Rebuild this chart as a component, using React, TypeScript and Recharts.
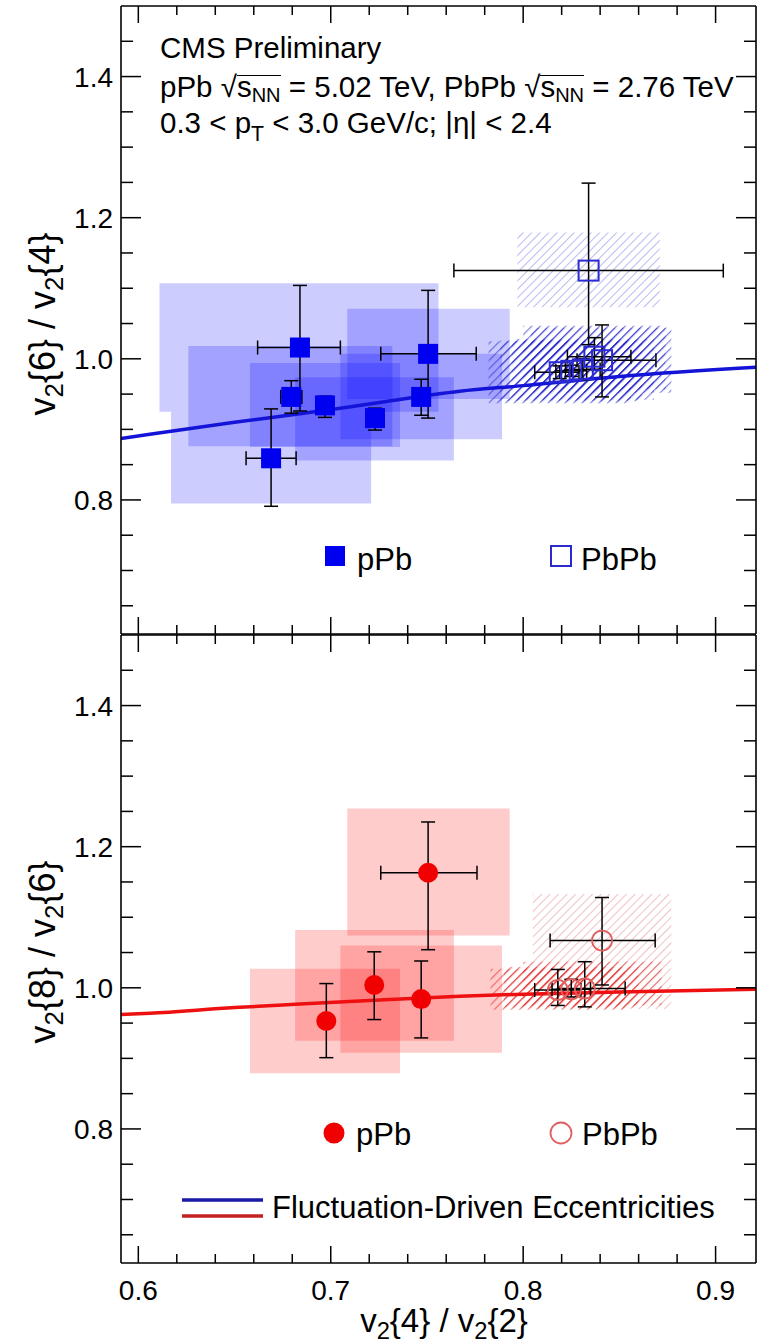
import React from "react"
import { ComposedChart, Scatter, Line, XAxis, YAxis, ErrorBar, ReferenceArea } from "recharts"

// axis ticks (major + minor) and labels
const xTicks = [0.6, 0.62, 0.64, 0.66, 0.68, 0.7, 0.72, 0.74, 0.76, 0.78, 0.8, 0.82, 0.84, 0.86, 0.88, 0.9]
const xMajor = [0.6, 0.7, 0.8, 0.9]
const xLabels = ["0.6", "0.7", "0.8", "0.9"]
const yTicks = [0.65, 0.7, 0.75, 0.8, 0.85, 0.9, 0.95, 1.0, 1.05, 1.1, 1.15, 1.2, 1.25, 1.3, 1.35, 1.4, 1.45]
const yMajor = [0.8, 1.0, 1.2, 1.4]
const yLabels = ["0.8", "1.0", "1.2", "1.4"]

// top panel: v2{6}/v2{4}, pPb
const pPbTopX = [0.669, 0.684, 0.6795, 0.697, 0.723, 0.7506, 0.747]
const pPbTopY = [0.859, 1.016, 0.946, 0.934, 0.916, 1.007, 0.946]
const pPbTopXLo = [0.656, 0.662, 0.674, 0.697, 0.723, 0.726, 0.747]
const pPbTopXHi = [0.682, 0.705, 0.685, 0.697, 0.723, 0.7756, 0.747]
const pPbTopYLo = [0.791, 0.926, 0.923, 0.917, 0.899, 0.916, 0.92]
const pPbTopYHi = [0.929, 1.104, 0.969, 0.947, 0.93, 1.097, 0.971]
const pPbTopSysX1 = [0.617, 0.611, 0.626, 0.658, 0.6815, 0.7086, 0.705]
const pPbTopSysX2 = [0.721, 0.756, 0.732, 0.736, 0.764, 0.793, 0.789]
const pPbTopSysY1 = [0.795, 0.925, 0.876, 0.875, 0.856, 0.943, 0.886]
const pPbTopSysY2 = [0.925, 1.107, 1.018, 0.994, 0.974, 1.071, 1.007]

// top panel: PbPb (last one is the isolated point)
const pbpbTopX = [0.819, 0.825, 0.831, 0.837, 0.841, 0.834]
const pbpbTopY = [0.981, 0.983, 0.985, 1.003, 0.998, 1.125]
const pbpbTopXLo = [0.806, 0.817, 0.822, 0.823, 0.828, 0.764]
const pbpbTopXHi = [0.829, 0.833, 0.84, 0.856, 0.869, 0.904]
const pbpbTopYLo = [0.972, 0.975, 0.97, 0.985, 0.946, 1.02]
const pbpbTopYHi = [0.99, 0.991, 1.0, 1.03, 1.048, 1.249]
const pbpbTopSysX1 = [0.782, 0.788, 0.794, 0.8, 0.804, 0.797]
const pbpbTopSysX2 = [0.856, 0.862, 0.868, 0.874, 0.877, 0.871]
const pbpbTopSysY1 = [0.937, 0.94, 0.942, 0.957, 0.952, 1.073]
const pbpbTopSysY2 = [1.025, 1.026, 1.028, 1.047, 1.044, 1.179]

// bottom panel: v2{8}/v2{6}, pPb
const pPbBotX = [0.6977, 0.7226, 0.747, 0.7506]
const pPbBotY = [0.953, 1.004, 0.984, 1.163]
const pPbBotXLo = [0.6977, 0.7226, 0.745, 0.726]
const pPbBotXHi = [0.6977, 0.7226, 0.749, 0.776]
const pPbBotYLo = [0.901, 0.955, 0.929, 1.054]
const pPbBotYHi = [1.006, 1.051, 1.038, 1.235]
const pPbBotSysX1 = [0.658, 0.6815, 0.705, 0.7086]
const pPbBotSysX2 = [0.736, 0.764, 0.789, 0.793]
const pPbBotSysY1 = [0.879, 0.925, 0.908, 1.074]
const pPbBotSysY2 = [1.027, 1.082, 1.06, 1.254]

// bottom panel: PbPb (last one is the isolated point)
const pbpbBotX = [0.818, 0.825, 0.832, 0.841]
const pbpbBotY = [0.997, 0.998, 0.999, 1.067]
const pbpbBotXLo = [0.806, 0.815, 0.818, 0.814]
const pbpbBotXHi = [0.83, 0.835, 0.853, 0.8686]
const pbpbBotYLo = [0.975, 0.987, 0.973, 1.004]
const pbpbBotYHi = [1.026, 1.012, 1.037, 1.128]
const pbpbBotSysX1 = [0.783, 0.79, 0.8, 0.805]
const pbpbBotSysX2 = [0.853, 0.86, 0.872, 0.877]
const pbpbBotSysY1 = [0.969, 0.972, 0.975, 0.97]
const pbpbBotSysY2 = [1.027, 1.03, 1.037, 1.133]

// fluctuation-driven eccentricity curves
const curveX = [0.591, 0.606, 0.65, 0.684, 0.72, 0.767, 0.8, 0.85, 0.921]
const blueCurveY = [0.887, 0.893, 0.91, 0.922, 0.936, 0.954, 0.962, 0.975, 0.988]
const redCurveY = [0.962, 0.964, 0.972, 0.977, 0.982, 0.988, 0.991, 0.994, 0.998]

const FONT = "'Liberation Sans', Arial, Helvetica, sans-serif"
const X_DOMAIN: [number, number] = [0.591, 0.921]
const Y_DOMAIN: [number, number] = [0.61, 1.5]

const points = (xs: number[], ys: number[], xlo: number[], xhi: number[], ylo: number[], yhi: number[]) =>
  xs.map((x, i) => ({
    x,
    y: ys[i],
    ex: [x - xlo[i], xhi[i] - x],
    ey: [ys[i] - ylo[i], yhi[i] - ys[i]],
  }))

const curve = (ys: number[]) => curveX.map((x, i) => ({ x, y: ys[i] }))

const near = (v: number, list: number[]) => list.findIndex((m) => Math.abs(m - v) < 1e-6)

// ROOT-like ticks pointing into the frame
const makeTick = (side: "bottom" | "top" | "left" | "right", withLabels: boolean) => (props: any) => {
  const { x, y, payload } = props
  const isX = side === "bottom" || side === "top"
  const idx = near(payload.value, isX ? xMajor : yMajor)
  const major = idx >= 0
  const len = isX ? (major ? 17 : 9) : major ? 20 : 12
  let line
  if (side === "bottom") line = <line x1={x} x2={x} y1={y} y2={y - len} />
  else if (side === "top") line = <line x1={x} x2={x} y1={y} y2={y + len} />
  else if (side === "left") line = <line x1={x} x2={x + len} y1={y} y2={y} />
  else line = <line x1={x} x2={x - len} y1={y} y2={y} />
  return (
    <g stroke="#000" strokeWidth={1.5}>
      {line}
      {withLabels && major && side === "bottom" && (
        <text x={x} y={y + 37} textAnchor="middle" fontSize={28} fontFamily={FONT} fill="#000" stroke="none">
          {xLabels[idx]}
        </text>
      )}
      {withLabels && major && side === "left" && (
        <text x={x - 8} y={y + 10} textAnchor="end" fontSize={28} fontFamily={FONT} fill="#000" stroke="none">
          {yLabels[idx]}
        </text>
      )}
    </g>
  )
}

const axisLine = { stroke: "#000", strokeWidth: 1.6 }

const filledSquare = (p: any) => <rect x={p.cx - 10} y={p.cy - 10} width={20} height={20} fill="#0000f0" />
const openSquare = (p: any) => (
  <rect x={p.cx - 10} y={p.cy - 10} width={20} height={20} fill="none" stroke="#2a2ad0" strokeWidth={2} />
)
const filledCircle = (p: any) => <circle cx={p.cx} cy={p.cy} r={10} fill="#f00000" />
const openCircle = (p: any) => <circle cx={p.cx} cy={p.cy} r={10} fill="none" stroke="#e06060" strokeWidth={1.8} />

function Panel({ top, height, bottomH, labels, children }: any) {
  return (
    <div style={{ position: "absolute", left: 0, top }}>
      <ComposedChart width={759} height={height} margin={{ top: 5, right: 2, bottom: 0, left: 0 }}>
        <defs>
          <pattern id="hatchBlue" patternUnits="userSpaceOnUse" width={6} height={6} patternTransform="rotate(45)">
            <line x1={0} y1={0} x2={0} y2={6} stroke="#3a3ad8" strokeWidth={1.3} />
          </pattern>
          <pattern id="hatchBlueBold" patternUnits="userSpaceOnUse" width={6} height={6} patternTransform="rotate(45)">
            <line x1={0} y1={0} x2={0} y2={6} stroke="#1c1cc8" strokeWidth={2.4} />
          </pattern>
          <pattern id="hatchRed" patternUnits="userSpaceOnUse" width={6} height={6} patternTransform="rotate(45)">
            <line x1={0} y1={0} x2={0} y2={6} stroke="#d85050" strokeWidth={1.3} />
          </pattern>
          <pattern id="hatchRedBold" patternUnits="userSpaceOnUse" width={6} height={6} patternTransform="rotate(45)">
            <line x1={0} y1={0} x2={0} y2={6} stroke="#e01818" strokeWidth={2.4} />
          </pattern>
        </defs>
        <XAxis
          xAxisId={0}
          dataKey="x"
          type="number"
          domain={X_DOMAIN}
          allowDataOverflow
          ticks={xTicks}
          interval={0}
          height={bottomH}
          tickSize={0}
          tickMargin={0}
          tickLine={false}
          axisLine={axisLine}
          tick={makeTick("bottom", labels)}
        />
        <XAxis
          xAxisId="top"
          orientation="top"
          dataKey="x"
          type="number"
          domain={X_DOMAIN}
          allowDataOverflow
          ticks={xTicks}
          interval={0}
          height={1}
          tickSize={0}
          tickMargin={0}
          tickLine={false}
          axisLine={axisLine}
          tick={makeTick("top", false)}
        />
        <YAxis
          yAxisId={0}
          dataKey="y"
          type="number"
          domain={Y_DOMAIN}
          allowDataOverflow
          ticks={yTicks}
          interval={0}
          width={121}
          tickSize={0}
          tickMargin={0}
          tickLine={false}
          axisLine={axisLine}
          tick={makeTick("left", true)}
        />
        <YAxis
          yAxisId="right"
          orientation="right"
          dataKey="y"
          type="number"
          domain={Y_DOMAIN}
          allowDataOverflow
          ticks={yTicks}
          interval={0}
          width={1}
          tickSize={0}
          tickMargin={0}
          tickLine={false}
          axisLine={axisLine}
          tick={makeTick("right", false)}
        />
        {children}
      </ComposedChart>
    </div>
  )
}

const sysBoxes = (x1: number[], x2: number[], y1: number[], y2: number[], fill: string | string[], opacity: number, key: string) =>
  x1.map((_, i) => (
    <ReferenceArea
      key={key + i}
      x1={x1[i]}
      x2={x2[i]}
      y1={y1[i]}
      y2={y2[i]}
      fill={Array.isArray(fill) ? fill[i] : fill}
      fillOpacity={opacity}
      stroke="none"
      ifOverflow="hidden"
    />
  ))

const subStyle: React.CSSProperties = { fontSize: "0.72em", position: "relative", top: "0.3em" }

const Sqrt = () => (
  <span>
    √
    <span style={{ display: "inline-block", lineHeight: "21px", borderTop: "1.5px solid #000" }}>
      s<span style={{ ...subStyle, top: "0.25em", fontSize: "0.68em" }}>NN</span>
    </span>
  </span>
)

const V2 = ({ a, b }: { a: string; b: string }) => (
  <>
    v<span style={subStyle}>2</span>
    {`{${a}} / v`}
    <span style={subStyle}>2</span>
    {`{${b}}`}
  </>
)

const hatchTop = ["url(#hatchBlueBold)", "url(#hatchBlueBold)", "url(#hatchBlueBold)", "url(#hatchBlueBold)", "url(#hatchBlueBold)", "url(#hatchBlue)"]
const hatchBot = ["url(#hatchRedBold)", "url(#hatchRedBold)", "url(#hatchRedBold)", "url(#hatchRed)"]

export default function App() {
  const pPbTop = points(pPbTopX, pPbTopY, pPbTopXLo, pPbTopXHi, pPbTopYLo, pPbTopYHi)
  const pbpbTop = points(pbpbTopX, pbpbTopY, pbpbTopXLo, pbpbTopXHi, pbpbTopYLo, pbpbTopYHi)
  const pPbBot = points(pPbBotX, pPbBotY, pPbBotXLo, pPbBotXHi, pPbBotYLo, pPbBotYHi)
  const pbpbBot = points(pbpbBotX, pbpbBotY, pbpbBotXLo, pbpbBotXHi, pbpbBotYLo, pbpbBotYHi)

  const textStyle: React.CSSProperties = {
    position: "absolute",
    fontFamily: FONT,
    fontSize: 29.5,
    lineHeight: "29px",
    whiteSpace: "nowrap",
    color: "#000",
  }

  return (
    <div style={{ position: "absolute", left: 0, top: 0, width: 759, height: 1342, background: "#fff", fontFamily: FONT }}>
      {/* top panel */}
      <Panel top={0} height={635} bottomH={1} labels={false}>
        {sysBoxes(pPbTopSysX1, pPbTopSysX2, pPbTopSysY1, pPbTopSysY2, "#0000ff", 0.2, "pt")}
        {sysBoxes(pbpbTopSysX1, pbpbTopSysX2, pbpbTopSysY1, pbpbTopSysY2, hatchTop, 0.55, "bt")}
        <Line data={curve(blueCurveY)} dataKey="y" type="monotone" stroke="#1414d8" strokeWidth={3.5} dot={false} isAnimationActive={false} />
        <Scatter data={pPbTop} dataKey="y" shape={filledSquare} isAnimationActive={false}>
          <ErrorBar dataKey="ey" direction="y" width={7} stroke="#000" strokeWidth={1.5} />
          <ErrorBar dataKey="ex" direction="x" width={7} stroke="#000" strokeWidth={1.5} />
        </Scatter>
        <Scatter data={pbpbTop} dataKey="y" shape={openSquare} isAnimationActive={false}>
          <ErrorBar dataKey="ey" direction="y" width={7} stroke="#000" strokeWidth={1.5} />
          <ErrorBar dataKey="ex" direction="x" width={7} stroke="#000" strokeWidth={1.5} />
        </Scatter>
      </Panel>

      {/* bottom panel */}
      <Panel top={629} height={713} bottomH={79} labels={true}>
        {sysBoxes(pPbBotSysX1, pPbBotSysX2, pPbBotSysY1, pPbBotSysY2, "#ff0000", 0.2, "pb")}
        {sysBoxes(pbpbBotSysX1, pbpbBotSysX2, pbpbBotSysY1, pbpbBotSysY2, hatchBot, 0.55, "bb")}
        <Line data={curve(redCurveY)} dataKey="y" type="monotone" stroke="#ee1010" strokeWidth={3.5} dot={false} isAnimationActive={false} />
        <Scatter data={pPbBot} dataKey="y" shape={filledCircle} isAnimationActive={false}>
          <ErrorBar dataKey="ey" direction="y" width={7} stroke="#000" strokeWidth={1.5} />
          <ErrorBar dataKey="ex" direction="x" width={7} stroke="#000" strokeWidth={1.5} />
        </Scatter>
        <Scatter data={pbpbBot} dataKey="y" shape={openCircle} isAnimationActive={false}>
          <ErrorBar dataKey="ey" direction="y" width={7} stroke="#000" strokeWidth={1.5} />
          <ErrorBar dataKey="ex" direction="x" width={7} stroke="#000" strokeWidth={1.5} />
        </Scatter>
      </Panel>

      {/* header */}
      <div style={{ ...textStyle, left: 160, top: 33 }}>CMS Preliminary</div>
      <div style={{ ...textStyle, left: 160, top: 72 }}>
        pPb <Sqrt /> = 5.02 TeV, PbPb <Sqrt /> = 2.76 TeV
      </div>
      <div style={{ ...textStyle, left: 160, top: 108 }}>
        0.3 &lt; p<span style={{ ...subStyle, top: "0.4em" }}>T</span> &lt; 3.0 GeV/c; |η| &lt; 2.4
      </div>

      {/* legends */}
      <svg width={759} height={1342} style={{ position: "absolute", left: 0, top: 0, pointerEvents: "none" }}>
        <rect x={325} y={546} width={20} height={20} fill="#0000f0" />
        <rect x={551} y={546} width={20} height={20} fill="none" stroke="#2a2ad0" strokeWidth={2} />
        <circle cx={334} cy={1133} r={10.5} fill="#f00000" />
        <circle cx={561} cy={1133} r={10.5} fill="none" stroke="#e06060" strokeWidth={1.8} />
        <line x1={182} x2={263} y1={1200} y2={1200} stroke="#1a1aa8" strokeWidth={3.5} />
        <line x1={182} x2={263} y1={1216} y2={1216} stroke="#c42020" strokeWidth={3.5} />
        <g fontFamily={FONT} fontSize={31} fill="#000">
          <text x={357} y={570}>pPb</text>
          <text x={581} y={570}>PbPb</text>
          <text x={356} y={1145}>pPb</text>
          <text x={582} y={1145}>PbPb</text>
          <text x={272} y={1218}>Fluctuation-Driven Eccentricities</text>
        </g>
      </svg>

      {/* axis titles */}
      <div style={{ ...textStyle, fontSize: 36, lineHeight: "36px", left: 44, top: 324, transform: "translate(-50%, -50%) rotate(-90deg)" }}>
        <V2 a="6" b="4" />
      </div>
      <div style={{ ...textStyle, fontSize: 36, lineHeight: "36px", left: 44, top: 952, transform: "translate(-50%, -50%) rotate(-90deg)" }}>
        <V2 a="8" b="6" />
      </div>
      <div style={{ ...textStyle, fontSize: 33, lineHeight: "33px", left: 444, top: 1322, transform: "translate(-50%, -50%)" }}>
        <V2 a="4" b="2" />
      </div>
    </div>
  )
}
